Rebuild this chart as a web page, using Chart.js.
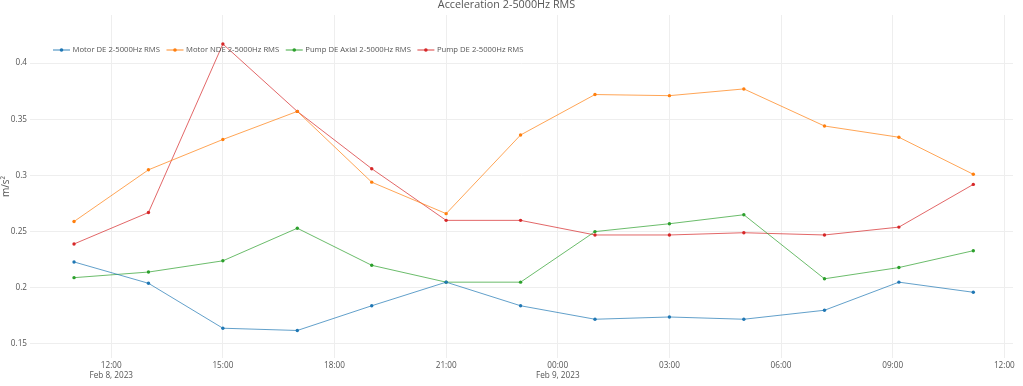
<!DOCTYPE html>
<html>
<head>
<meta charset="utf-8">
<title>Acceleration 2-5000Hz RMS</title>
<script src="https://cdn.jsdelivr.net/npm/chart.js@4.4.0/dist/chart.umd.min.js"></script>
<style>
  html, body { margin: 0; padding: 0; background: #fff; }
</style>
</head>
<body>
<canvas id="myChart" width="1023" height="386"></canvas>
<script>
'use strict';

// <------------------ DATA ------------------>

let times = [
  '2023-02-08 11:00', '2023-02-08 13:00', '2023-02-08 15:00', '2023-02-08 17:00',
  '2023-02-08 19:00', '2023-02-08 21:00', '2023-02-08 23:00', '2023-02-09 01:00',
  '2023-02-09 03:00', '2023-02-09 05:00', '2023-02-09 07:10', '2023-02-09 09:10',
  '2023-02-09 11:10'
];

let motorDE = [0.223, 0.204, 0.164, 0.162, 0.184, 0.205, 0.184, 0.172, 0.174, 0.172, 0.180, 0.205, 0.196];
let motorNDE = [0.259, 0.305, 0.332, 0.357, 0.294, 0.266, 0.336, 0.372, 0.371, 0.377, 0.344, 0.334, 0.301];
let pumpAxial = [0.209, 0.214, 0.224, 0.253, 0.220, 0.205, 0.205, 0.250, 0.257, 0.265, 0.208, 0.218, 0.233];
let pumpDE = [0.239, 0.267, 0.417, 0.357, 0.306, 0.260, 0.260, 0.247, 0.247, 0.249, 0.247, 0.254, 0.292];

let seriesNames = ['Motor DE 2-5000Hz RMS', 'Motor NDE 2-5000Hz RMS', 'Pump DE Axial 2-5000Hz RMS', 'Pump DE 2-5000Hz RMS'];
let seriesColors = ['#1f77b4', '#ff7f0e', '#2ca02c', '#d62728'];

let xTickTimes = [
  '2023-02-08 12:00', '2023-02-08 15:00', '2023-02-08 18:00', '2023-02-08 21:00',
  '2023-02-09 00:00', '2023-02-09 03:00', '2023-02-09 06:00', '2023-02-09 09:00',
  '2023-02-09 12:00'
];
let xTickLabels = [
  ['12:00', 'Feb 8, 2023'], '15:00', '18:00', '21:00',
  ['00:00', 'Feb 9, 2023'], '03:00', '06:00', '09:00', '12:00'
];
let xRange = ['2023-02-08 09:49', '2023-02-09 12:14'];

let yTicks = [0.15, 0.2, 0.25, 0.3, 0.35, 0.4];
let yRange = [0.1375, 0.4428];


// <------------------ HELPERS ------------------>

// hours counted from 2023-02-08 00:00 (no date adapter available)
function toHours(stamp) {
  let day = parseInt(stamp.slice(8, 10), 10) - 8;
  let hh = parseInt(stamp.slice(11, 13), 10);
  let mm = parseInt(stamp.slice(14, 16), 10);
  return day * 24 + hh + mm / 60;
}

function withAlpha(hex, a) {
  let n = parseInt(hex.slice(1), 16);
  return `rgba(${(n >> 16) & 255}, ${(n >> 8) & 255}, ${n & 255}, ${a})`;
}

function makeDataset(i, values) {
  return {
    label: seriesNames[i],
    data: values.map((v, j) => ({ x: toHours(times[j]), y: v })),
    borderColor: withAlpha(seriesColors[i], 0.7),
    backgroundColor: seriesColors[i],
    pointBackgroundColor: seriesColors[i],
    pointBorderWidth: 0,
    pointRadius: 1.7,
    borderWidth: 1,
    tension: 0
  };
}

const FONT = '"Open Sans", verdana, arial, sans-serif';


// <------------------ LEGEND (plotly style, inside plot) ------------------>

const plotlyLegend = {
  id: 'plotlyLegend',
  afterDraw(chart) {
    let c = chart.ctx;
    let area = chart.chartArea;
    let x = area.left + 23;
    let y = area.top + 35;
    c.save();
    c.font = `7.7px ${FONT}`;
    c.textBaseline = 'middle';
    chart.data.datasets.forEach((ds, i) => {
      c.strokeStyle = withAlpha(seriesColors[i], 0.45);
      c.lineWidth = 2;
      c.beginPath();
      c.moveTo(x, y);
      c.lineTo(x + 17, y);
      c.stroke();
      c.fillStyle = seriesColors[i];
      c.beginPath();
      c.arc(x + 8.5, y, 1.8, 0, 2 * Math.PI);
      c.fill();
      x += 19.5;
      c.fillStyle = '#555';
      c.fillText(ds.label, x, y);
      x += c.measureText(ds.label).width + 6.5;
    });
    c.restore();
  }
};


// <------------------ CHART ------------------>

let ctx = document.getElementById('myChart').getContext('2d');

let myChartObj = {
  type: 'line',
  data: {
    datasets: [
      makeDataset(0, motorDE),
      makeDataset(1, motorNDE),
      makeDataset(2, pumpAxial),
      makeDataset(3, pumpDE)
    ]
  },
  options: {
    responsive: false,
    animation: false,
    devicePixelRatio: 1,
    layout: { padding: { left: 0, right: 10, top: 0, bottom: 0 } },
    plugins: {
      legend: { display: false },
      tooltip: { enabled: false },
      title: {
        display: true,
        text: 'Acceleration 2-5000Hz RMS',
        color: '#555',
        font: { family: FONT, size: 10.8, weight: 'normal', lineHeight: 1 },
        padding: { top: 0, bottom: 4.2 }
      }
    },
    scales: {
      x: {
        type: 'linear',
        min: toHours(xRange[0]),
        max: toHours(xRange[1]),
        afterBuildTicks: (axis) => {
          axis.ticks = xTickTimes.map((t) => ({ value: toHours(t) }));
        },
        afterFit: (axis) => { axis.height = 28; },
        grid: { color: '#eee', lineWidth: 1, drawTicks: false },
        border: { display: false },
        ticks: {
          padding: 3,
          color: '#555',
          maxRotation: 0,
          autoSkip: false,
          font: { family: FONT, size: 8.2 },
          callback: (value, index) => xTickLabels[index]
        }
      },
      y: {
        min: yRange[0],
        max: yRange[1],
        afterBuildTicks: (axis) => {
          axis.ticks = yTicks.map((v) => ({ value: v }));
        },
        afterFit: (axis) => { axis.width = 30; },
        grid: { color: '#eee', lineWidth: 1, drawTicks: false },
        border: { display: false },
        title: {
          display: true,
          text: 'm/s²',
          color: '#555',
          padding: 0,
          font: { family: FONT, size: 10, lineHeight: 1.2 }
        },
        ticks: {
          padding: 3,
          color: '#555',
          font: { family: FONT, size: 8.2 },
          callback: (value) => String(value)
        }
      }
    }
  },
  plugins: [plotlyLegend]
};

const myChart = new Chart(ctx, myChartObj);
</script>
</body>
</html>
